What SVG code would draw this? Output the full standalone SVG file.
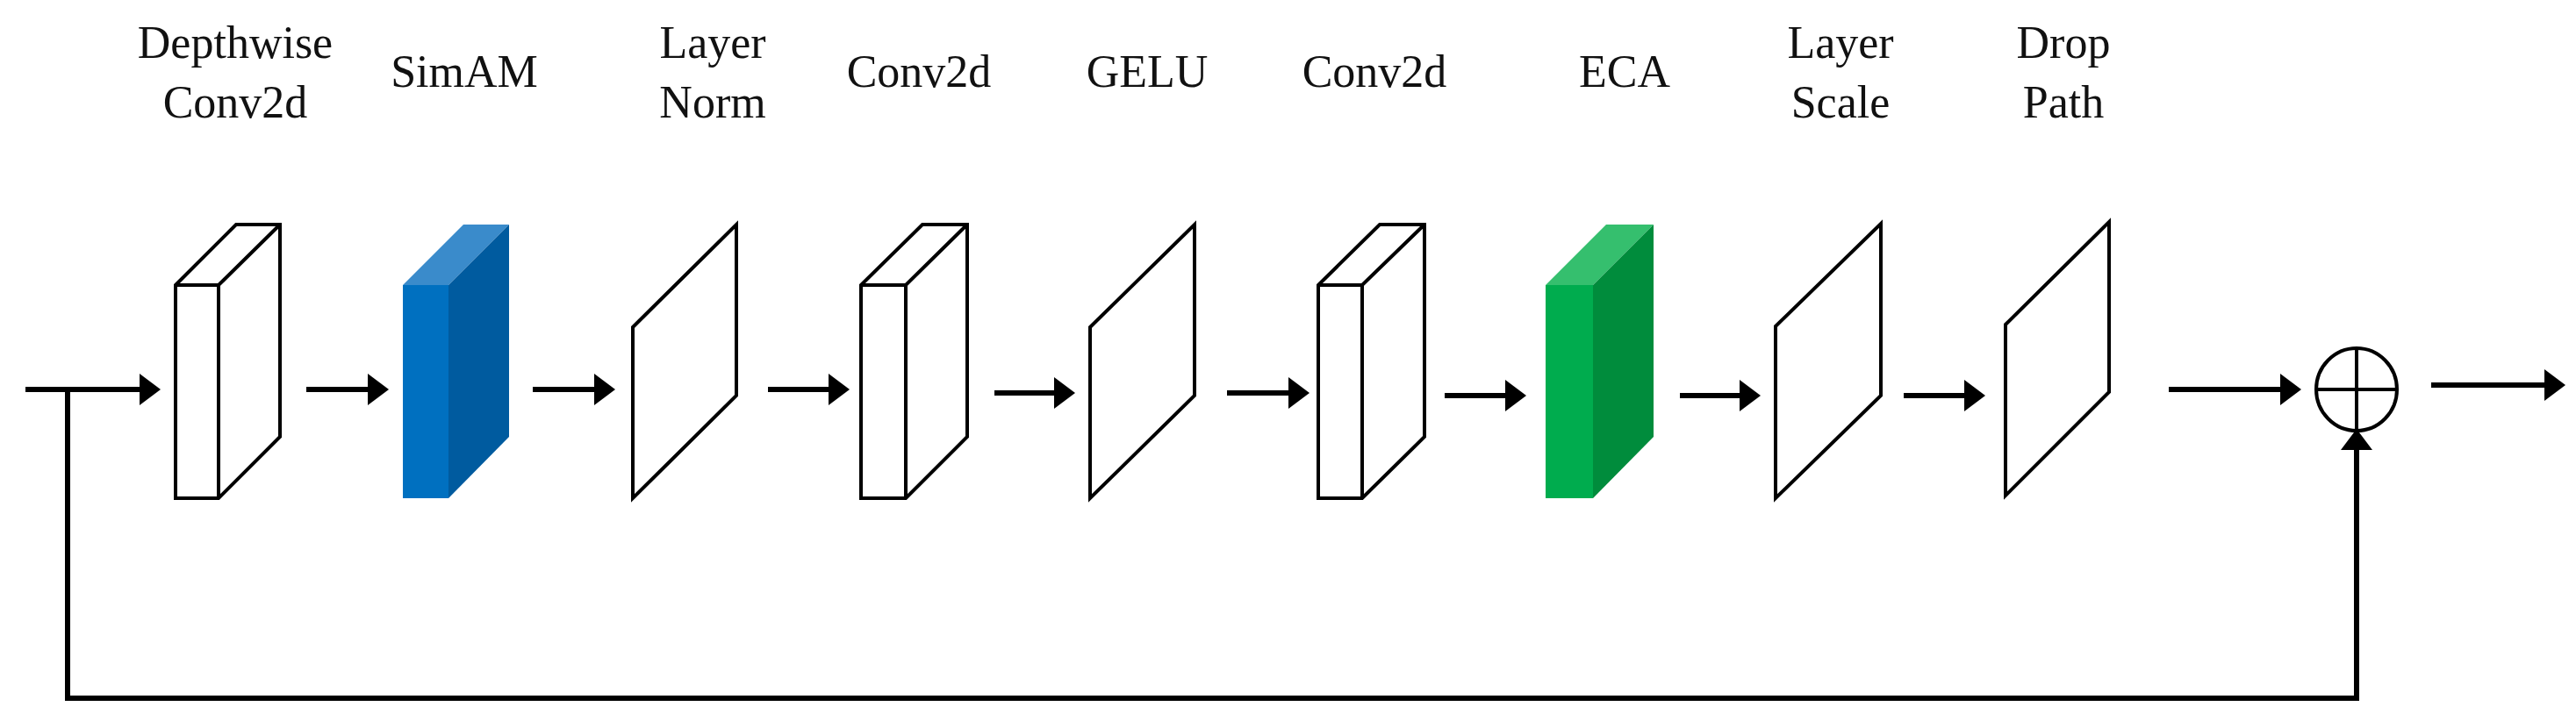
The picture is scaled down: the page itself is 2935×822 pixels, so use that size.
<svg xmlns="http://www.w3.org/2000/svg" width="2935" height="822" viewBox="0 0 2935 822">
<style>
text{font-family:"Liberation Serif","Times New Roman",serif;font-size:52px;fill:#111;text-anchor:middle}
.o{fill:#fff;stroke:#000;stroke-width:4;stroke-linejoin:miter}
.c{stroke:#000;stroke-width:6;fill:none}
</style>
<defs>
<marker id="ah" markerWidth="6" markerHeight="6" refX="1" refY="3" orient="auto" markerUnits="strokeWidth"><path d="M0,0 L4,3 L0,6 Z" fill="#000"/></marker>
</defs>
<rect width="2935" height="822" fill="#fff"/>
<g id="n1"><text x="268" y="66">Depthwise</text><text x="268" y="134">Conv2d</text>
<path class="o" d="M200,325 L269,256 L319,256 L319,498 L249,568 L200,568 Z M200,325 L249,325 L319,256 M249,325 L249,568"/></g>
<g id="n2"><text x="529" y="99">SimAM</text>
<path d="M459,325 L528,256 L580,256 L511,325 Z" fill="#3a8bcb"/><path d="M511,325 L580,256 L580,498 L511,568 Z" fill="#005b9f"/><rect x="459" y="325" width="52" height="243" fill="#0070c0"/></g>
<g id="n3"><text x="812" y="66">Layer</text><text x="812" y="134">Norm</text>
<path class="o" d="M721,373 L839,256 L839,451 L721,568 Z"/></g>
<g id="n4"><text x="1047" y="99">Conv2d</text>
<path class="o" d="M981,325 L1051,256 L1102,256 L1102,498 L1032,568 L981,568 Z M981,325 L1032,325 L1102,256 M1032,325 L1032,568"/></g>
<g id="n5"><text x="1307" y="99">GELU</text>
<path class="o" d="M1242,373 L1361,256 L1361,451 L1242,568 Z"/></g>
<g id="n6"><text x="1566" y="99">Conv2d</text>
<path class="o" d="M1502,325 L1572,256 L1623,256 L1623,498 L1552,568 L1502,568 Z M1502,325 L1552,325 L1623,256 M1552,325 L1552,568"/></g>
<g id="n7"><text x="1851" y="99">ECA</text>
<path d="M1761,325 L1830,256 L1884,256 L1815,325 Z" fill="#35bf6e"/><path d="M1815,325 L1884,256 L1884,498 L1815,568 Z" fill="#008c3c"/><rect x="1761" y="325" width="54" height="243" fill="#00ac4e"/></g>
<g id="n8"><text x="2097" y="66">Layer</text><text x="2097" y="134">Scale</text>
<path class="o" d="M2023,372 L2143,255 L2143,451 L2023,568 Z"/></g>
<g id="n9"><text x="2351" y="66">Drop</text><text x="2351" y="134">Path</text>
<path class="o" d="M2285,370 L2403,253 L2403,447 L2285,565 Z"/></g>
<g id="add"><ellipse cx="2685" cy="444" rx="46" ry="47" fill="#fff" stroke="#000" stroke-width="4"/>
<path d="M2639,444 H2731 M2685,397 V491" stroke="#000" stroke-width="4"/></g>
<g id="connectors">
<path class="c" d="M29,444 H165" marker-end="url(#ah)"/>
<path class="c" d="M77,444 V796 H2685 V507" marker-end="url(#ah)"/>
<path class="c" d="M349,444 H425" marker-end="url(#ah)"/>
<path class="c" d="M607,444 H683" marker-end="url(#ah)"/>
<path class="c" d="M875,444 H950" marker-end="url(#ah)"/>
<path class="c" d="M1133,448 H1207" marker-end="url(#ah)"/>
<path class="c" d="M1398,448 H1474" marker-end="url(#ah)"/>
<path class="c" d="M1646,451 H1721" marker-end="url(#ah)"/>
<path class="c" d="M1914,451 H1988" marker-end="url(#ah)"/>
<path class="c" d="M2169,451 H2244" marker-end="url(#ah)"/>
<path class="c" d="M2471,444 H2604" marker-end="url(#ah)"/>
<path class="c" d="M2770,439 H2905" marker-end="url(#ah)"/>
</g>
</svg>
